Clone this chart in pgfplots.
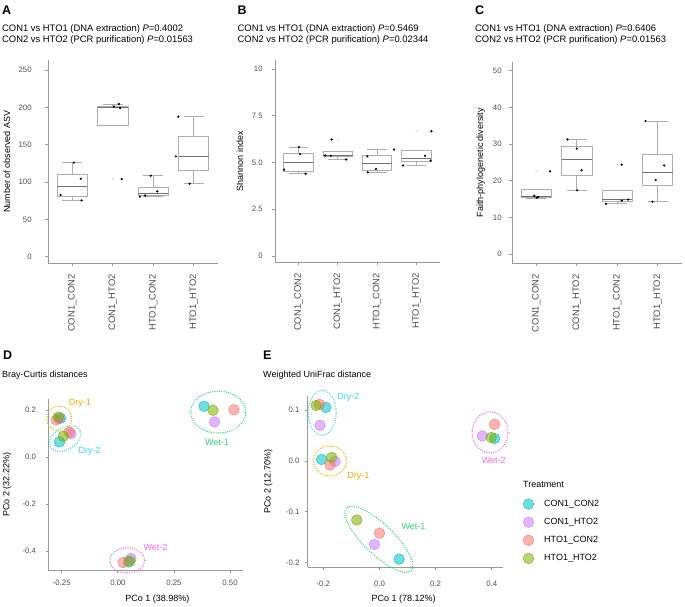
\documentclass[border=0pt]{standalone}
\usepackage{fontspec}
\setmainfont{Liberation Sans}
\usepackage{pgfplots}
\pgfplotsset{compat=1.18}
\usepgfplotslibrary{statistics}
\usetikzlibrary{shapes.geometric}

\definecolor{cc}{HTML}{00BFC4}
\definecolor{ch}{HTML}{C77CFF}
\definecolor{hc}{HTML}{F8766D}
\definecolor{hh}{HTML}{7CAE00}
\definecolor{dryone}{HTML}{EDAE00}
\definecolor{drytwo}{HTML}{3FD3E6}
\definecolor{wetone}{HTML}{33D375}
\definecolor{wettwo}{HTML}{F06AE6}
\definecolor{axgray}{HTML}{999999}
\definecolor{tkgray}{HTML}{4D4D4D}
\definecolor{boxgray}{HTML}{ADADAD}
\definecolor{medgray}{HTML}{707070}

\newcommand{\fs}[1]{\fontsize{#1}{#1}\selectfont}

\tikzset{
  ell/.style={ellipse, draw=#1, line width=1.4pt, line cap=round,
    dash pattern=on 0pt off 2.3pt, inner sep=0pt},
  elab/.style={font=\fs{9}, text=#1},
}

\pgfplotsset{
  panel/.style={scale only axis, clip=false,
    axis lines=left, axis line style={-, draw=axgray, line width=0.9pt},
    tick style={draw=axgray, line width=0.8pt},
    tick align=outside, major tick length=2.8pt,
    /pgf/number format/assume math mode=true,
    ticklabel style={font=\fs{7.8}, text=tkgray},
    label style={font=\fs{9}}},
  boxpanel/.style={panel, xmin=0.4, xmax=4.6, xtick={1,2,3,4},
    xticklabels={CON1\_CON2,CON1\_HTO2,HTO1\_CON2,HTO1\_HTO2},
    xticklabel style={rotate=90, anchor=east, font=\fs{9.4}},
    xticklabel shift=5pt,
    boxplot/draw direction=y,
    boxplot/box extend=0.75, boxplot/whisker extend=0.5,
    boxplot/every box/.style={draw=boxgray, fill=white, line width=0.8pt},
    boxplot/every whisker/.style={draw=boxgray, line width=0.9pt},
    boxplot/every median/.style={draw=medgray, line width=0.9pt}},
  jit/.style={only marks, mark=*, mark size=0.9pt, black},
  faint/.style={only marks, mark=*, mark size=0.8pt, color=black!12},
  scat/.style={only marks, mark=*, mark size=5.3pt, color=#1,
    mark options={draw=none, fill=#1, fill opacity=0.55}},
}

\begin{document}
\begin{tikzpicture}
\useasboundingbox (0,0) rectangle (685pt,-606pt);

% headers
\node[anchor=base west, font=\bfseries\fs{12.5}, inner sep=0pt] at (2pt,-14pt) {A};
\node[anchor=base west, font=\fs{9.4}, inner sep=0pt] at (2pt,-31pt) {CON1 vs HTO1 (DNA extraction) \textit{P}=0.4002};
\node[anchor=base west, font=\fs{9.4}, inner sep=0pt] at (2pt,-42.5pt) {CON2 vs HTO2 (PCR purification) \textit{P}=0.01563};
\node[anchor=base west, font=\bfseries\fs{12.5}, inner sep=0pt] at (237.5pt,-14pt) {B};
\node[anchor=base west, font=\fs{9.4}, inner sep=0pt] at (237.5pt,-31pt) {CON1 vs HTO1 (DNA extraction) \textit{P}=0.5469};
\node[anchor=base west, font=\fs{9.4}, inner sep=0pt] at (237.5pt,-42.5pt) {CON2 vs HTO2 (PCR purification) \textit{P}=0.02344};
\node[anchor=base west, font=\bfseries\fs{12.5}, inner sep=0pt] at (475pt,-14pt) {C};
\node[anchor=base west, font=\fs{9.4}, inner sep=0pt] at (475pt,-31pt) {CON1 vs HTO1 (DNA extraction) \textit{P}=0.6406};
\node[anchor=base west, font=\fs{9.4}, inner sep=0pt] at (475pt,-42.5pt) {CON2 vs HTO2 (PCR purification) \textit{P}=0.01563};
\node[anchor=base west, font=\bfseries\fs{12.5}, inner sep=0pt] at (3pt,-359pt) {D};
\node[anchor=base west, font=\fs{9}, inner sep=0pt] at (2pt,-377pt) {Bray-Curtis distances};
\node[anchor=base west, font=\bfseries\fs{12.5}, inner sep=0pt] at (263pt,-359pt) {E};
\node[anchor=base west, font=\fs{9}, inner sep=0pt] at (263pt,-377pt) {Weighted UniFrac distance};

% A: observed ASV
\begin{axis}[boxpanel, at={(48pt,-60pt)}, anchor=north west,
  width=170pt, height=203pt, ymin=-8.4, ymax=263.4,
  ytick={0,50,100,150,200,250}, yticklabel shift=10pt,
  ylabel={Number of observed ASV},
  ylabel style={at={(axis description cs:-0.241,0.5)}, anchor=center}]
\addplot[boxplot prepared={draw position=1, lower whisker=75.4, lower quartile=80.8, median=93.8, upper quartile=110.7, upper whisker=126}] coordinates {};
\addplot[boxplot prepared={draw position=2, lower whisker=175.4, lower quartile=175.4, median=200, upper quartile=201, upper whisker=204.5}] coordinates {};
\addplot[boxplot prepared={draw position=3, lower whisker=80.8, lower quartile=82.1, median=84.8, upper quartile=92.9, upper whisker=108.5}] coordinates {};
\addplot[boxplot prepared={draw position=4, lower whisker=97.8, lower quartile=116, median=134.4, upper quartile=160.7, upper whisker=187.5}] coordinates {};
\addplot[faint] coordinates {(2,104)};
\addplot[jit] coordinates {
  (1.04,126) (1.21,104.5) (0.71,82.6) (1.23,75.4)
  (2.15,204.5) (2.03,201) (2.18,199) (2.22,104)
  (2.94,108.5) (3.10,87.5) (2.80,82) (2.67,80.4)
  (3.62,187.5) (3.56,134.4) (3.90,97.8)
};
\end{axis}

% B: Shannon
\begin{axis}[boxpanel, at={(275pt,-60pt)}, anchor=north west,
  width=165pt, height=202pt, ymin=-0.32, ymax=10.48,
  ytick={0,2.5,5,7.5,10}, yticklabels={0,2.5,5.0,7.5,10}, yticklabel shift=6pt,
  ylabel={Shannon index},
  ylabel style={at={(axis description cs:-0.212,0.5)}, anchor=center}]
\addplot[boxplot prepared={draw position=1, lower whisker=4.40, lower quartile=4.55, median=5.02, upper quartile=5.51, upper whisker=5.83}] coordinates {};
\addplot[boxplot prepared={draw position=2, lower whisker=5.16, lower quartile=5.34, median=5.38, upper quartile=5.60, upper whisker=5.60}] coordinates {};
\addplot[boxplot prepared={draw position=3, lower whisker=4.49, lower quartile=4.60, median=4.96, upper quartile=5.40, upper whisker=5.69}] coordinates {};
\addplot[boxplot prepared={draw position=4, lower whisker=4.84, lower quartile=5.05, median=5.24, upper quartile=5.67, upper whisker=5.67}] coordinates {};
\addplot[faint] coordinates {(2,6.23) (4,6.67)};
\addplot[jit] coordinates {
  (1.01,5.83) (1.04,5.45) (0.63,4.62) (1.18,4.40)
  (1.84,6.23) (1.68,5.38) (1.82,5.36) (2.21,5.16)
  (3.43,5.69) (2.75,5.33) (2.97,4.65) (2.76,4.48)
  (4.38,6.67) (4.22,5.36) (4.36,5.10) (3.66,4.84)
};
\end{axis}

% C: Faith PD
\begin{axis}[boxpanel, at={(512pt,-61.7pt)}, anchor=north west,
  width=170pt, height=201.6pt, ymin=-2.5, ymax=52.5,
  ytick={0,10,20,30,40,50}, yticklabel shift=4pt,
  ylabel={Faith-phylogenetic diversity},
  ylabel style={at={(axis description cs:-0.184,0.5)}, anchor=center}]
\addplot[boxplot prepared={draw position=1, lower whisker=15.3, lower quartile=15.5, median=15.7, upper quartile=17.7, upper whisker=17.7}] coordinates {};
\addplot[boxplot prepared={draw position=2, lower whisker=17.4, lower quartile=21.6, median=25.8, upper quartile=29.4, upper whisker=31.4}] coordinates {};
\addplot[boxplot prepared={draw position=3, lower whisker=13.7, lower quartile=14.5, median=14.8, upper quartile=17.4, upper whisker=17.4}] coordinates {};
\addplot[boxplot prepared={draw position=4, lower whisker=14.3, lower quartile=18.8, median=22.4, upper quartile=27.1, upper whisker=36.3}] coordinates {};
\addplot[faint] coordinates {(1,22.6) (3,24.4)};
\addplot[jit] coordinates {
  (0.95,15.9) (1.01,15.4) (1.05,15.6) (1.34,22.6)
  (1.77,31.3) (2.00,28.8) (2.12,22.9) (2.01,17.4)
  (3.11,24.4) (3.11,14.6) (3.27,14.9) (2.72,13.7)
  (3.70,36.3) (4.16,24.2) (3.95,20.2) (3.87,14.3)
};
\end{axis}

% D: Bray-Curtis PCoA
\begin{axis}[panel, at={(48.3pt,-399.3pt)}, anchor=north west,
  width=195pt, height=170.7pt,
  xmin=-0.310, xmax=0.559, ymin=-0.481, ymax=0.2455,
  xtick={-0.25,0,0.25,0.5}, xticklabels={-0.25,0.00,0.25,0.50},
  ytick={-0.4,-0.2,0,0.2}, yticklabels={-0.4,-0.2,0.0,0.2},
  xticklabel shift=4pt, yticklabel shift=6pt,
  xlabel={PCo 1 (38.98\%)}, ylabel={PCo 2 (32.22\%)},
  xlabel style={at={(axis description cs:0.559,-0.17)}, anchor=center},
  ylabel style={at={(axis description cs:-0.212,0.5)}, anchor=center}]
\addplot[scat=cc] coordinates {(-0.255,0.165) (-0.260,0.064) (0.384,0.216) (0.047,-0.447)};
\addplot[scat=ch] coordinates {(-0.262,0.163) (-0.209,0.099) (0.431,0.149) (0.058,-0.432)};
\addplot[scat=hc] coordinates {(-0.275,0.158) (-0.216,0.106) (0.517,0.201) (0.024,-0.449)};
\addplot[scat=hh] coordinates {(-0.265,0.170) (-0.243,0.088) (0.424,0.199) (0.054,-0.443)};
\node[ell=dryone, minimum width=25pt, minimum height=25pt] at (axis cs:-0.261,0.163) {};
\node[ell=drytwo, minimum width=34pt, minimum height=22pt, rotate=30] at (axis cs:-0.235,0.078) {};
\node[ell=wetone, minimum width=55pt, minimum height=42pt] at (axis cs:0.447,0.191) {};
\node[ell=wettwo, minimum width=35pt, minimum height=25pt] at (axis cs:0.042,-0.440) {};
\node[elab=dryone] at (axis cs:-0.169,0.230) {Dry-1};
\node[elab=drytwo] at (axis cs:-0.126,0.026) {Dry-2};
\node[elab=wetone] at (axis cs:0.442,0.060) {Wet-1};
\node[elab=wettwo] at (axis cs:0.168,-0.383) {Wet-2};
\end{axis}

% E: weighted UniFrac PCoA
\begin{axis}[panel, at={(307.7pt,-396pt)}, anchor=north west,
  width=195.6pt, height=171.3pt,
  xmin=-0.2556, xmax=0.441, ymin=-0.209, ymax=0.1275,
  xtick={-0.2,0,0.2,0.4}, xticklabels={-0.2,0.0,0.2,0.4},
  ytick={-0.2,-0.1,0,0.1}, yticklabels={-0.2,-0.1,0.0,0.1},
  xticklabel shift=7pt, yticklabel shift=2pt,
  xlabel={PCo 1 (78.12\%)}, ylabel={PCo 2 (12.70\%)},
  xlabel style={at={(axis description cs:0.49,-0.185)}, anchor=center},
  ylabel style={at={(axis description cs:-0.201,0.5)}, anchor=center},
  legend style={draw=none, fill=none, at={(axis description cs:1.1007,0.401)},
    anchor=north west, font=\fs{9}, row sep=7.5pt, inner sep=0pt,
    nodes={inner sep=0pt},
    /tikz/every odd column/.append style={column sep=10.4pt}},
  legend cell align=left,
  legend image code/.code={\draw[#1] plot coordinates {(5.3pt,0pt)};}]
\addplot[scat=cc] coordinates {(-0.191,0.105) (-0.206,0.003) (0.070,-0.193) (0.410,0.044)};
\addlegendentry{CON1\_CON2}
\addplot[scat=ch] coordinates {(-0.212,0.070) (-0.158,-0.001) (-0.018,-0.164) (0.366,0.049)};
\addlegendentry{CON1\_HTO2}
\addplot[scat=hc] coordinates {(-0.214,0.111) (-0.176,-0.008) (0.000,-0.142) (0.410,0.072)};
\addlegendentry{HTO1\_CON2}
\addplot[scat=hh] coordinates {(-0.226,0.109) (-0.170,0.007) (-0.081,-0.116) (0.398,0.046)};
\addlegendentry{HTO1\_HTO2}
\node[ell=drytwo, minimum width=28pt, minimum height=45pt] at (axis cs:-0.204,0.0945) {};
\node[ell=dryone, minimum width=33pt, minimum height=30pt] at (axis cs:-0.176,0.000) {};
\node[ell=wetone, minimum width=90pt, minimum height=30pt, rotate=-44] at (axis cs:-0.002,-0.154) {};
\node[ell=wettwo, minimum width=36pt, minimum height=41pt] at (axis cs:0.394,0.056) {};
\node[elab=drytwo] at (axis cs:-0.111,0.124) {Dry-2};
\node[elab=dryone] at (axis cs:-0.075,-0.030) {Dry-1};
\node[elab=wetone] at (axis cs:0.121,-0.128) {Wet-1};
\node[elab=wettwo] at (axis cs:0.407,0.001) {Wet-2};
\end{axis}

\node[anchor=base west, font=\fs{9}, inner sep=0pt] at (523pt,-487pt) {Treatment};
\end{tikzpicture}
\end{document}
